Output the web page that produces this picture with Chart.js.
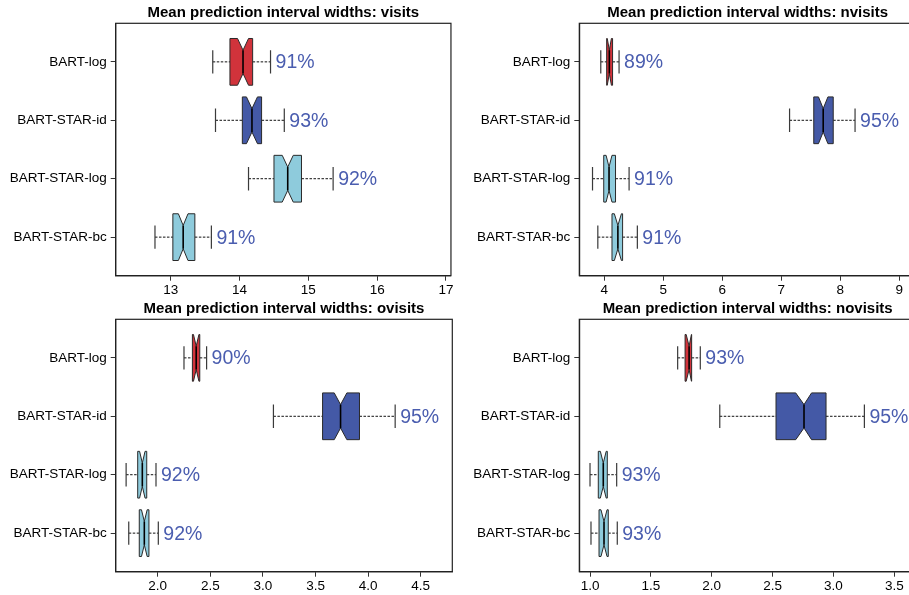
<!DOCTYPE html>
<html><head><meta charset="utf-8">
<script src="https://cdn.jsdelivr.net/npm/chart.js@4"></script>
<style>
html,body{margin:0;padding:0;overflow:hidden;background:#fff;width:909px;height:595px;}
canvas{position:absolute;display:block;}
</style></head><body>
<canvas id="c1" width="455" height="295" style="left:0px;top:0px;width:455px;height:295px"></canvas>
<canvas id="c2" width="464" height="295" style="left:455px;top:0px;width:464px;height:295px"></canvas>
<canvas id="c3" width="455" height="295" style="left:0px;top:296px;width:455px;height:295px"></canvas>
<canvas id="c4" width="464" height="295" style="left:455px;top:296px;width:464px;height:295px"></canvas>
<script>
const categories = ['BART-log', 'BART-STAR-id', 'BART-STAR-log', 'BART-STAR-bc'];
const boxColors = ['#d1333b', '#4459a6', '#8ecbdc', '#8ecbdc'];

// visits
const visitsMin     = [13.61, 13.65, 14.13, 12.77];
const visitsQ1      = [13.86, 14.04, 14.50, 13.03];
const visitsMedian  = [14.05, 14.18, 14.70, 13.18];
const visitsQ3      = [14.19, 14.32, 14.90, 13.35];
const visitsMax     = [14.45, 14.65, 15.36, 13.59];
const visitsNotchLo = [13.97, 14.10, 14.62, 13.11];
const visitsNotchHi = [14.13, 14.26, 14.78, 13.25];
const visitsCoverage = [91, 93, 92, 91];
const visitsTicks = [13, 14, 15, 16, 17];
const visitsTickLabels = ['13', '14', '15', '16', '17'];

// nvisits
const nvisitsMin     = [3.94, 7.14, 3.80, 3.89];
const nvisitsQ1      = [4.04, 7.55, 3.99, 4.13];
const nvisitsMedian  = [4.085, 7.71, 4.08, 4.23];
const nvisitsQ3      = [4.14, 7.88, 4.19, 4.31];
const nvisitsMax     = [4.25, 8.25, 4.42, 4.56];
const nvisitsNotchLo = [4.05, 7.63, 4.03, 4.17];
const nvisitsNotchHi = [4.12, 7.79, 4.13, 4.29];
const nvisitsCoverage = [89, 95, 91, 91];
const nvisitsTicks = [4, 5, 6, 7, 8, 9];
const nvisitsTickLabels = ['4', '5', '6', '7', '8', '9'];

// ovisits
const ovisitsMin     = [2.25, 3.10, 1.70, 1.725];
const ovisitsQ1      = [2.33, 3.567, 1.81, 1.825];
const ovisitsMedian  = [2.366, 3.738, 1.854, 1.873];
const ovisitsQ3      = [2.40, 3.918, 1.896, 1.917];
const ovisitsMax     = [2.465, 4.257, 1.984, 2.006];
const ovisitsNotchLo = [2.34, 3.678, 1.828, 1.846];
const ovisitsNotchHi = [2.392, 3.798, 1.88, 1.90];
const ovisitsCoverage = [90, 95, 92, 92];
const ovisitsTicks = [2.0, 2.5, 3.0, 3.5, 4.0, 4.5];
const ovisitsTickLabels = ['2.0', '2.5', '3.0', '3.5', '4.0', '4.5'];

// novisits
const novisitsMin     = [1.72, 2.066, 1.00, 1.008];
const novisitsQ1      = [1.781, 2.528, 1.068, 1.074];
const novisitsMedian  = [1.814, 2.758, 1.109, 1.115];
const novisitsQ3      = [1.835, 2.939, 1.142, 1.15];
const novisitsMax     = [1.906, 3.254, 1.219, 1.224];
const novisitsNotchLo = [1.79, 2.69, 1.085, 1.09];
const novisitsNotchHi = [1.833, 2.82, 1.133, 1.14];
const novisitsCoverage = [93, 95, 93, 93];
const novisitsTicks = [1.0, 1.5, 2.0, 2.5, 3.0, 3.5];
const novisitsTickLabels = ['1.0', '1.5', '2.0', '2.5', '3.0', '3.5'];

const FONT = "'Liberation Sans', Arial, Helvetica, sans-serif";

const notchedBoxPlugin = {
  id: 'notchedBoxes',
  afterDatasetsDraw(chart) {
    const s = chart.data.datasets[0].stats;
    const xs = chart.scales.x, ys = chart.scales.y;
    const ctx = chart.ctx;
    const ca = chart.chartArea;
    const X = v => xs.getPixelForValue(v);
    ctx.save();
    s.min.forEach((_, i) => {
      const yc = ys.getPixelForValue(i + 1);
      const hw = Math.abs(ys.getPixelForValue(i + 1.4) - yc);
      const cap = hw / 2;
      // whiskers
      ctx.setLineDash([2.5, 1.5]);
      ctx.lineWidth = 1;
      ctx.strokeStyle = '#111';
      ctx.beginPath();
      ctx.moveTo(X(s.min[i]), yc); ctx.lineTo(X(s.q1[i]), yc);
      ctx.moveTo(X(s.q3[i]), yc); ctx.lineTo(X(s.max[i]), yc);
      ctx.stroke();
      ctx.setLineDash([]);
      // caps
      ctx.lineWidth = 1.2;
      ctx.strokeStyle = '#3a3a3a';
      ctx.beginPath();
      ctx.moveTo(X(s.min[i]), yc - cap); ctx.lineTo(X(s.min[i]), yc + cap);
      ctx.moveTo(X(s.max[i]), yc - cap); ctx.lineTo(X(s.max[i]), yc + cap);
      ctx.stroke();
      // notched box
      ctx.beginPath();
      ctx.moveTo(X(s.q1[i]), yc - hw);
      ctx.lineTo(X(s.lo[i]), yc - hw);
      ctx.lineTo(X(s.med[i]), yc - hw / 2);
      ctx.lineTo(X(s.hi[i]), yc - hw);
      ctx.lineTo(X(s.q3[i]), yc - hw);
      ctx.lineTo(X(s.q3[i]), yc + hw);
      ctx.lineTo(X(s.hi[i]), yc + hw);
      ctx.lineTo(X(s.med[i]), yc + hw / 2);
      ctx.lineTo(X(s.lo[i]), yc + hw);
      ctx.lineTo(X(s.q1[i]), yc + hw);
      ctx.closePath();
      ctx.fillStyle = boxColors[i];
      ctx.fill();
      ctx.lineWidth = 1;
      ctx.strokeStyle = '#2a2a2a';
      ctx.stroke();
      // median
      ctx.lineWidth = 1.6;
      ctx.strokeStyle = '#000';
      ctx.beginPath();
      ctx.moveTo(X(s.med[i]), yc - hw / 2); ctx.lineTo(X(s.med[i]), yc + hw / 2);
      ctx.stroke();
      // coverage label
      ctx.fillStyle = '#4a5daf';
      ctx.font = '19.5px ' + FONT;
      ctx.textAlign = 'left';
      ctx.textBaseline = 'middle';
      ctx.fillText(s.cov[i] + '%', X(s.max[i]) + 5, yc + 1);
    });
    // frame
    ctx.lineWidth = 1.2;
    ctx.strokeStyle = '#222';
    ctx.strokeRect(ca.left, ca.top, ca.right - ca.left, ca.bottom - ca.top);
    ctx.restore();
  }
};

function makePanel(id, title, min, q1, med, q3, max, lo, hi, cov, ticks, tickLabels, xmin, xmax, yAxisWidth, padRight) {
  return new Chart(document.getElementById(id), {
    type: 'scatter',
    data: {
      datasets: [{
        data: med.map((m, i) => ({ x: m, y: i + 1 })),
        pointRadius: 0,
        pointHoverRadius: 0,
        stats: { min, q1, med, q3, max, lo, hi, cov }
      }]
    },
    options: {
      responsive: false,
      animation: false,
      events: [],
      layout: { padding: { left: 0, right: padRight, top: 0, bottom: 0 } },
      plugins: {
        legend: { display: false },
        tooltip: { enabled: false },
        title: {
          display: true, text: title, fullSize: false,
          font: { family: FONT, size: 15, weight: 'bold' }, color: '#000',
          padding: { top: 3.5, bottom: 1.8 }
        }
      },
      scales: {
        x: {
          type: 'linear', min: xmin, max: xmax,
          afterBuildTicks: sc => { sc.ticks = ticks.map(v => ({ value: v })); },
          afterFit: sc => { sc.height = 19.3; },
          ticks: {
            callback: (v, i) => tickLabels[i],
            font: { family: FONT, size: 13.5 }, color: '#000',
            padding: 1.5, maxRotation: 0, autoSkip: false
          },
          grid: { drawOnChartArea: false, drawTicks: true, tickLength: 5, color: '#333', lineWidth: 1 },
          border: { display: true, color: '#222', width: 1.2 }
        },
        y: {
          type: 'linear', min: 0.34, max: 4.66, reverse: true,
          afterBuildTicks: sc => { sc.ticks = [1, 2, 3, 4].map(v => ({ value: v })); },
          afterFit: sc => { sc.width = yAxisWidth; },
          ticks: {
            callback: (v, i) => categories[i],
            font: { family: FONT, size: 13.5 }, color: '#000',
            padding: 4, autoSkip: false
          },
          grid: { drawOnChartArea: false, drawTicks: true, tickLength: 5, color: '#333', lineWidth: 1 },
          border: { display: true, color: '#222', width: 1.2 }
        }
      }
    },
    plugins: [notchedBoxPlugin]
  });
}

makePanel('c1', 'Mean prediction interval widths: visits',
  visitsMin, visitsQ1, visitsMedian, visitsQ3, visitsMax, visitsNotchLo, visitsNotchHi, visitsCoverage,
  visitsTicks, visitsTickLabels, 12.199, 17.073, 115.7, 2.7);
makePanel('c2', 'Mean prediction interval widths: nvisits',
  nvisitsMin, nvisitsQ1, nvisitsMedian, nvisitsQ3, nvisitsMax, nvisitsNotchLo, nvisitsNotchHi, nvisitsCoverage,
  nvisitsTicks, nvisitsTickLabels, 3.576, 9.283, 124.3, 3);
makePanel('c3', 'Mean prediction interval widths: ovisits',
  ovisitsMin, ovisitsQ1, ovisitsMedian, ovisitsQ3, ovisitsMax, ovisitsNotchLo, ovisitsNotchHi, ovisitsCoverage,
  ovisitsTicks, ovisitsTickLabels, 1.601, 4.80, 115.7, 2.7);
makePanel('c4', 'Mean prediction interval widths: novisits',
  novisitsMin, novisitsQ1, novisitsMedian, novisitsQ3, novisitsMax, novisitsNotchLo, novisitsNotchHi, novisitsCoverage,
  novisitsTicks, novisitsTickLabels, 0.912, 3.678, 124.3, 3);
</script>
</body></html>
